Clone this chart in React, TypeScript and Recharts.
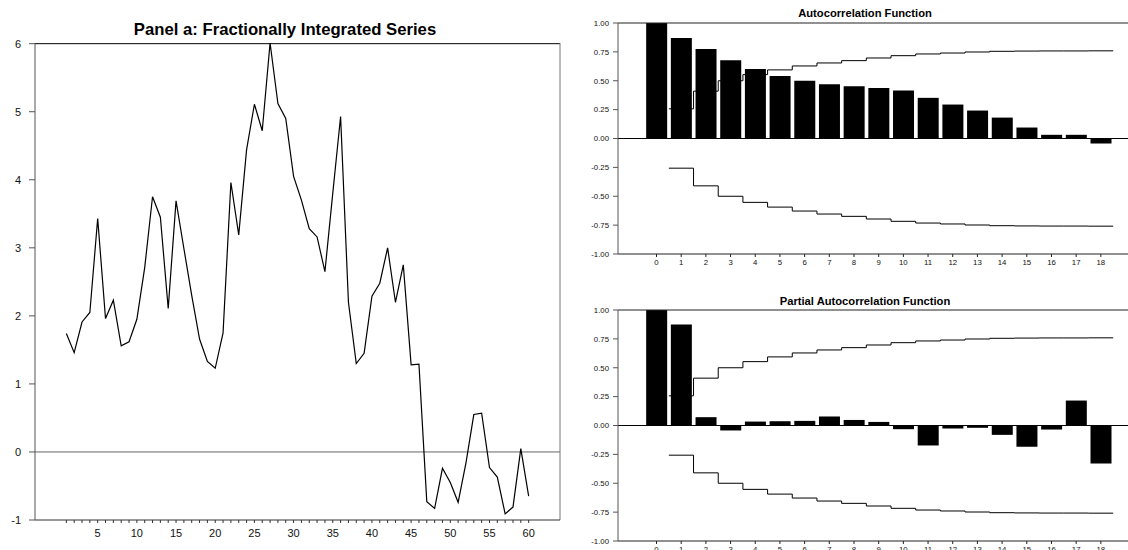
import { LineChart, Line, ComposedChart, Bar, XAxis, YAxis, ReferenceLine } from 'recharts';

// Panel a: simulated fractionally integrated series, t = 1..60
const seriesValues = [
  1.74, 1.46, 1.91, 2.05, 3.43, 1.96, 2.23, 1.56, 1.62, 1.95,
  2.71, 3.75, 3.45, 2.11, 3.69, 2.99, 2.3, 1.66, 1.33, 1.23,
  1.75, 3.96, 3.19, 4.44, 5.11, 4.72, 6.01, 5.12, 4.9, 4.05,
  3.7, 3.28, 3.16, 2.65, 3.8, 4.93, 2.2, 1.3, 1.45, 2.29,
  2.48, 3.0, 2.2, 2.75, 1.28, 1.29, -0.73, -0.83, -0.24, -0.45,
  -0.74, -0.16, 0.55, 0.57, -0.23, -0.37, -0.91, -0.81, 0.05, -0.65,
];
const seriesYTicks = [-1, 0, 1, 2, 3, 4, 5, 6];

// correlograms, lags 0..18
const lags = [0, 1, 2, 3, 4, 5, 6, 7, 8, 9, 10, 11, 12, 13, 14, 15, 16, 17, 18];
const acfValues = [
  1.0, 0.87, 0.775, 0.677, 0.602, 0.542, 0.499, 0.47, 0.452, 0.438,
  0.415, 0.352, 0.294, 0.242, 0.181, 0.095, 0.032, 0.032, -0.043,
];
const pacfValues = [
  1.0, 0.874, 0.072, -0.043, 0.034, 0.037, 0.04, 0.078, 0.048, 0.031,
  -0.032, -0.173, -0.026, -0.02, -0.081, -0.184, -0.035, 0.216, -0.328,
];
// confidence band for lags 1..18 (same band drawn on both panels)
const bandValues = [
  0.257, 0.41, 0.5, 0.553, 0.594, 0.628, 0.654, 0.674, 0.697, 0.717,
  0.732, 0.74, 0.749, 0.755, 0.757, 0.758, 0.758, 0.759,
];
const corrYTicks = [-1, -0.75, -0.5, -0.25, 0, 0.25, 0.5, 0.75, 1];

const FONT = '"Liberation Sans", Arial, Helvetica, sans-serif';
const CORR_DOMAIN: [number, number] = [-1.56, 19.1];

const seriesData = seriesValues.map((v, i) => ({ t: i + 1, v }));
const periods = seriesData.map((d) => d.t);

// step band: each level holds from lag-0.5 to lag+0.5
const bandData = bandValues.map((b, i) => ({ x: i + 0.5, hi: b, lo: -b }));
bandData.push({
  x: bandValues.length + 0.5,
  hi: bandValues[bandValues.length - 1],
  lo: -bandValues[bandValues.length - 1],
});

function SeriesPanel() {
  return (
    <LineChart
      width={570}
      height={550}
      data={seriesData}
      margin={{ top: 43, right: 10, bottom: 0, left: 0 }}
    >
      <XAxis
        dataKey="t"
        type="number"
        domain={[-3, 64]}
        ticks={periods}
        interval={0}
        tickFormatter={(v: number) => (v % 5 === 0 ? String(v) : '')}
        tickSize={3}
        tickMargin={6}
        height={30}
        stroke="#333"
        tick={{ fill: '#111', fontSize: 11 }}
      />
      <YAxis
        type="number"
        domain={[-1, 6]}
        ticks={seriesYTicks}
        interval={0}
        width={35}
        tickSize={6}
        tickMargin={8}
        stroke="#555"
        tick={{ fill: '#111', fontSize: 11 }}
      />
      <ReferenceLine y={0} stroke="#666" />
      <ReferenceLine y={6} stroke="#000" />
      <ReferenceLine x={64} stroke="#777" />
      <Line
        type="linear"
        dataKey="v"
        stroke="#000"
        strokeWidth={1.2}
        dot={false}
        isAnimationActive={false}
      />
    </LineChart>
  );
}

function CorrPanel({ values }: { values: number[] }) {
  const data = lags.map((lag, i) => ({ lag, value: values[i] }));
  return (
    <ComposedChart
      width={548}
      height={275}
      data={data}
      margin={{ top: 23, right: 0, bottom: 0, left: 0 }}
    >
      <XAxis
        xAxisId="lag"
        dataKey="lag"
        type="number"
        domain={CORR_DOMAIN}
        allowDataOverflow
        ticks={lags}
        interval={0}
        tickSize={3}
        tickMargin={2}
        height={21}
        stroke="#222"
        tick={{ fill: '#111', fontSize: 7.8 }}
      />
      <XAxis
        xAxisId="band"
        dataKey="x"
        type="number"
        domain={CORR_DOMAIN}
        allowDataOverflow
        orientation="top"
        height={0}
        hide
      />
      <YAxis
        type="number"
        domain={[-1, 1]}
        ticks={corrYTicks}
        interval={0}
        tickFormatter={(v: number) => v.toFixed(2)}
        width={38}
        tickSize={5}
        tickMargin={4}
        stroke="#555"
        tick={{ fill: '#111', fontSize: 7.8 }}
      />
      <ReferenceLine xAxisId="lag" y={0} stroke="#000" />
      <ReferenceLine xAxisId="lag" y={1} stroke="#222" />
      <Bar
        xAxisId="lag"
        dataKey="value"
        fill="#000"
        barSize={21}
        isAnimationActive={false}
      />
      <Line
        xAxisId="band"
        data={bandData}
        dataKey="hi"
        type="stepAfter"
        stroke="#000"
        strokeWidth={1}
        dot={false}
        isAnimationActive={false}
      />
      <Line
        xAxisId="band"
        data={bandData}
        dataKey="lo"
        type="stepAfter"
        stroke="#000"
        strokeWidth={1}
        dot={false}
        isAnimationActive={false}
      />
    </ComposedChart>
  );
}

const titleStyle = {
  position: 'absolute' as const,
  fontWeight: 'bold' as const,
  color: '#000',
  textAlign: 'center' as const,
  whiteSpace: 'nowrap' as const,
};

export default function App() {
  return (
    <div
      style={{
        position: 'fixed',
        left: 0,
        top: 0,
        width: 1128,
        height: 550,
        overflow: 'hidden',
        background: '#fff',
        fontFamily: FONT,
      }}
    >
      <div style={{ ...titleStyle, left: 85, width: 400, top: 20, fontSize: 16.7, lineHeight: '20px' }}>
        Panel a: Fractionally Integrated Series
      </div>
      <div style={{ ...titleStyle, left: 715, width: 300, top: 7, fontSize: 11.2, lineHeight: '13px' }}>
        Autocorrelation Function
      </div>
      <div style={{ ...titleStyle, left: 715, width: 300, top: 294.5, fontSize: 11.2, lineHeight: '13px' }}>
        Partial Autocorrelation Function
      </div>
      <div style={{ position: 'absolute', left: 0, top: 0 }}>
        <SeriesPanel />
      </div>
      <div style={{ position: 'absolute', left: 580, top: 0 }}>
        <CorrPanel values={acfValues} />
      </div>
      <div style={{ position: 'absolute', left: 580, top: 286.5 }}>
        <CorrPanel values={pacfValues} />
      </div>
    </div>
  );
}
